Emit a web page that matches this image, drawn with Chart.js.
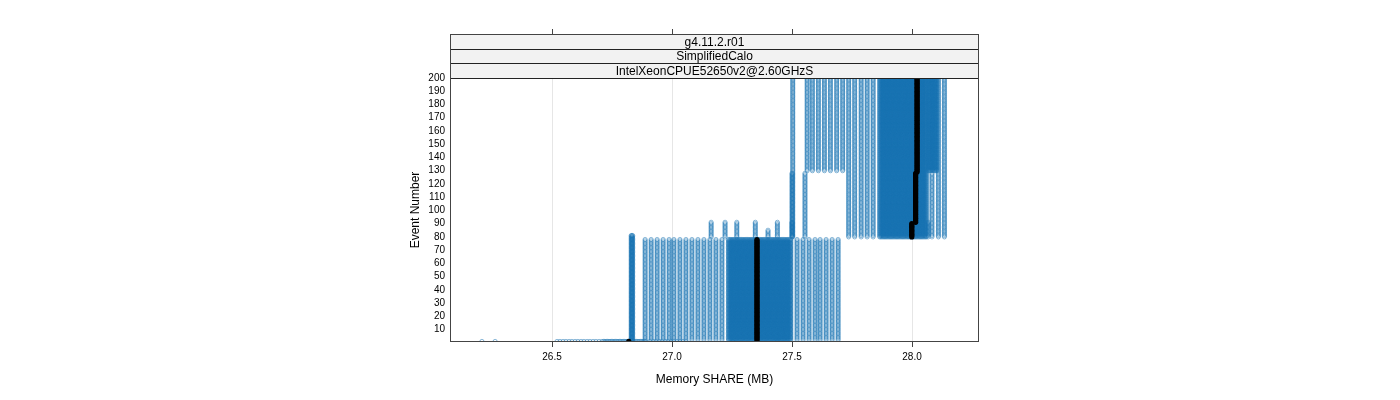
<!DOCTYPE html>
<html>
<head>
<meta charset="utf-8">
<script src="https://cdn.jsdelivr.net/npm/chart.js@4.4.1/dist/chart.umd.min.js"></script>
<style>
  html, body { margin: 0; padding: 0; background: #fff; }
  #wrap { width: 1400px; height: 400px; }
</style>
</head>
<body>
<div id="wrap"><canvas id="chart" width="1400" height="400"></canvas></div>
<script>
// Textos de las tiras y ejes
const stripLabels = ['g4.11.2.r01', 'SimplifiedCalo', 'IntelXeonCPUE52650v2@2.60GHzS'];
const xTicks = [26.5, 27.0, 27.5, 28.0];
const yTicks = [10, 20, 30, 40, 50, 60, 70, 80, 90, 100, 110, 120, 130, 140, 150, 160, 170, 180, 190, 200];

// Memory SHARE (MB) de cada corrida, por bloque de eventos
const shareEv1 = [26.208, 26.263,
  26.521, 26.533, 26.546, 26.558, 26.571, 26.583, 26.596, 26.608, 26.621, 26.633, 26.646, 26.658, 26.671, 26.683, 26.696, 26.708,
  26.715, 26.72, 26.726, 26.731, 26.737, 26.742, 26.748, 26.753, 26.759, 26.764, 26.77, 26.775, 26.781, 26.786, 26.792, 26.797,
  26.803, 26.808, 26.814, 26.819, 26.825, 26.83, 26.836, 26.841, 26.847, 26.852, 26.858, 26.863, 26.869, 26.874, 26.88, 26.885, 26.891,
  26.908, 26.921, 26.933, 26.946, 26.958, 26.971, 26.983, 26.996, 27.008, 27.021, 27.033, 27.046, 27.058,
  27.254, 27.438];
const shareEv2to81 = [26.830, 26.833, 26.836];
const shareEv2to78 = [
  26.888, 26.913, 26.938, 26.963, 26.988, 27.008, 27.033, 27.058, 27.083, 27.108, 27.133, 27.158, 27.183, 27.208,
  27.235, 27.24, 27.245, 27.25, 27.255, 27.26, 27.265, 27.27, 27.275, 27.28, 27.285, 27.29, 27.295, 27.3, 27.305, 27.31,
  27.315, 27.32, 27.325, 27.33, 27.335, 27.34, 27.345, 27.35, 27.355, 27.36, 27.365, 27.37, 27.375, 27.38, 27.385, 27.39,
  27.395, 27.4, 27.405, 27.41, 27.415, 27.42, 27.425, 27.43, 27.435, 27.44, 27.445, 27.45, 27.455, 27.46, 27.465, 27.47,
  27.475, 27.48, 27.485, 27.49, 27.495,
  27.521, 27.546, 27.571, 27.596, 27.617, 27.642, 27.667, 27.692];
const shareEv80to91 = [27.163, 27.221, 27.270, 27.347, 27.439, 27.500, 28.067];
const shareEv80to85 = [27.400];
const shareEv80to128 = [27.500, 27.554, 28.083];
const shareEv80to200 = [27.503, 27.736, 27.761, 27.788, 27.813, 27.838,
  27.865, 27.87, 27.875, 27.88, 27.885, 27.89, 27.895, 27.9, 27.905, 27.91, 27.915, 27.92, 27.925, 27.93, 27.935, 27.94,
  27.945, 27.95, 27.955, 27.96, 27.965, 27.97, 27.975, 27.98, 27.985, 27.99, 27.995, 28.0, 28.005, 28.01, 28.015, 28.02,
  28.025, 28.03, 28.035, 28.04, 28.045, 28.05, 28.055, 28.06,
  28.110, 28.135];
const shareEv130to200 = [27.563, 27.585, 27.610, 27.635, 27.660, 27.686, 27.711,
  28.068, 28.073, 28.078, 28.083, 28.088, 28.093, 28.098, 28.103];

// Mediana (linea negra)
const medianShare = [26.82, 27.354, 27.999, 28.015, 28.021];
const medianFirst = [1, 2, 80, 91, 129];
const medianLast = [1, 78, 90, 128, 200];

// Puntos de cada columna: un punto por evento
function columns(shares, first, last) {
  const pts = [];
  shares.forEach(x => { for (let e = first; e <= last; e++) pts.push({ x: x, y: e }); });
  return pts;
}

const bluePts = [].concat(
  columns(shareEv1, 1, 1),
  columns(shareEv2to81, 2, 81),
  columns(shareEv2to78, 2, 78),
  columns(shareEv80to91, 80, 91),
  columns(shareEv80to85, 80, 85),
  columns(shareEv80to128, 80, 128),
  columns(shareEv80to200, 80, 200),
  columns(shareEv130to200, 130, 200)
);
let medianPts = [];
medianShare.forEach((x, i) => { medianPts = medianPts.concat(columns([x], medianFirst[i], medianLast[i])); });

// Tiras, marco y ticks superiores estilo lattice
const latticeFrame = {
  id: 'latticeFrame',
  afterDraw(chart) {
    const { ctx, chartArea: a, scales: { x } } = chart;
    const stripH = 14.7;
    const top = a.top - stripH * stripLabels.length;
    ctx.save();
    ctx.font = '12px "Liberation Sans", Arial, sans-serif';
    ctx.textAlign = 'center';
    ctx.textBaseline = 'middle';
    ctx.lineWidth = 1;
    stripLabels.forEach((t, i) => {
      const y0 = Math.round(top + stripH * i);
      const y1 = Math.round(top + stripH * (i + 1));
      ctx.fillStyle = '#f2f2f2';
      ctx.fillRect(a.left, y0, a.right - a.left, y1 - y0);
      ctx.strokeStyle = '#222';
      ctx.strokeRect(Math.round(a.left) + 0.5, y0 + 0.5, Math.round(a.right - a.left) - 1, y1 - y0);
      ctx.fillStyle = '#000';
      ctx.fillText(t, (a.left + a.right) / 2, (y0 + y1) / 2 + 1);
    });
    // marco del panel
    ctx.strokeStyle = '#444';
    ctx.strokeRect(Math.round(a.left) + 0.5, Math.round(top) + 0.5, Math.round(a.right - a.left) - 1, Math.round(a.bottom - top) - 1);
    // ticks arriba
    xTicks.forEach(v => {
      const px = Math.round(x.getPixelForValue(v)) + 0.5;
      ctx.beginPath();
      ctx.moveTo(px, Math.round(top));
      ctx.lineTo(px, Math.round(top) - 5);
      ctx.stroke();
    });
    ctx.restore();
  }
};

new Chart(document.getElementById('chart'), {
  type: 'scatter',
  data: {
    datasets: [
      {
        label: 'mediana',
        data: medianPts,
        order: 0,
        pointRadius: 2.6,
        pointBorderWidth: 0,
        backgroundColor: '#000',
        borderColor: '#000',
        clip: 0
      },
      {
        label: 'corridas',
        data: bluePts,
        order: 1,
        pointRadius: 2.1,
        pointBorderWidth: 1,
        backgroundColor: 'rgba(0,0,0,0)',
        borderColor: 'rgba(22,114,178,0.5)',
        clip: 0
      }
    ]
  },
  options: {
    responsive: false,
    animation: false,
    events: [],
    layout: { padding: { left: 400, right: 421, top: 78, bottom: 0 } },
    plugins: { legend: { display: false }, tooltip: { enabled: false } },
    scales: {
      x: {
        type: 'linear',
        min: 26.075,
        max: 28.279,
        afterBuildTicks: s => { s.ticks = xTicks.map(v => ({ value: v })); },
        afterFit: s => { s.height = 58; },
        border: { display: false },
        grid: { color: '#e6e6e6', drawTicks: true, tickLength: 5, tickColor: '#444' },
        ticks: {
          padding: 4,
          color: '#000',
          autoSkip: false,
          font: { family: '"Liberation Sans", Arial, sans-serif', size: 10 },
          maxRotation: 0,
          callback: v => Number(v).toFixed(1)
        },
        title: {
          display: true,
          text: 'Memory SHARE (MB)',
          color: '#000',
          font: { family: '"Liberation Sans", Arial, sans-serif', size: 12 },
          padding: { top: 0, bottom: 13 }
        }
      },
      y: {
        type: 'linear',
        min: 0.6,
        max: 200,
        afterBuildTicks: s => { s.ticks = yTicks.map(v => ({ value: v })); },
        afterFit: s => { s.width = 50; },
        border: { display: false },
        grid: { display: false, drawTicks: false },
        ticks: {
          padding: 5,
          color: '#000',
          autoSkip: false,
          font: { family: '"Liberation Sans", Arial, sans-serif', size: 10 }
        },
        title: {
          display: true,
          text: 'Event Number',
          color: '#000',
          font: { family: '"Liberation Sans", Arial, sans-serif', size: 12 },
          padding: { top: 8, bottom: 0 }
        }
      }
    }
  },
  plugins: [latticeFrame]
});
</script>
</body>
</html>
